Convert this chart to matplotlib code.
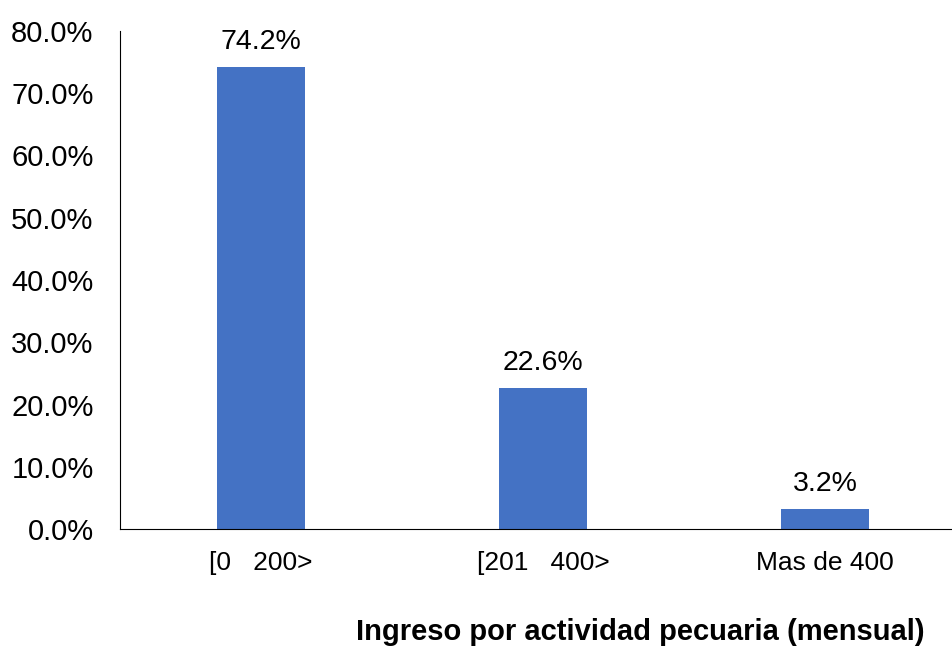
import matplotlib
matplotlib.use('Agg')
import matplotlib.pyplot as plt
from matplotlib.ticker import FuncFormatter

plt.rcParams['font.family'] = ['Liberation Sans', 'DejaVu Sans']

categorias = ['[0   200>', '[201   400>', 'Mas de 400']
porcentajes = [74.2, 22.6, 3.2]
titulo_x = 'Ingreso por actividad pecuaria (mensual)'

fig = plt.figure(figsize=(9.52, 6.46), dpi=100)
ax = fig.add_axes([120 / 952, 1 - 529 / 646, (952 - 120) / 952, (529 - 31) / 646])

x = range(len(categorias))
bars = ax.bar(x, porcentajes, width=0.31, color='#4472C4')
for b, v in zip(bars, porcentajes):
    ax.text(b.get_x() + b.get_width() / 2, v + 1.9, f'{v:.1f}%',
            ha='center', va='bottom', fontsize=20.5)

ax.set_xlim(-0.5, 2.45)
ax.set_ylim(0, 80)
ax.set_yticks(range(0, 81, 10))
ax.yaxis.set_major_formatter(FuncFormatter(lambda v, p: f'{v:.1f}%'))
ax.set_xticks(list(x))
ax.set_xticklabels(categorias, fontsize=19)
ax.tick_params(axis='y', length=0, labelsize=21, pad=19)
ax.tick_params(axis='x', length=0, pad=16)
for s in ['top', 'right']:
    ax.spines[s].set_visible(False)
ax.spines['left'].set_color('black')
ax.spines['bottom'].set_color('black')

fig.text(640 / 952, 1 - 632 / 646, titulo_x, ha='center', va='center',
         fontsize=21, fontweight='bold')

fig.savefig('out.png', dpi=100)
